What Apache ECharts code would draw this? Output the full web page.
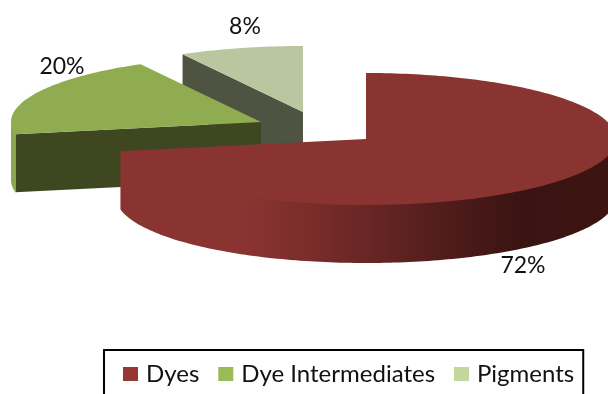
<!DOCTYPE html>
<html><head><meta charset="utf-8">
<style>html,body{margin:0;padding:0;background:#fff;overflow:hidden}#c{width:608px;height:394px}</style>
<script src="https://cdn.jsdelivr.net/npm/echarts@6/dist/echarts.min.js"></script>
</head><body><div id="c"></div>
<script>
const categories = ['Dyes', 'Dye Intermediates', 'Pigments'];
const values = [72, 20, 8];
const percentLabels = ['72%', '20%', '8%'];

// Layout of the exploded 3D pie (projection, not data)
const RX = 250, RY = 66, DEPTH = 58;
const apexes = [[366, 139], [261, 122], [303, 112]];
const labelPos = [[523, 266], [62, 67], [245, 27]];
const legendColors = ['#953735', '#9bbb59', '#c3d69b'];
const topColors = ['#8a3432', '#8fad50', '#b9c6a0'];
const wallColors = ['#5a2020', '#3f4720', '#4f5341'];

const total = values.reduce((a, b) => a + b, 0);
const angles = [];
let acc = 0;
values.forEach(v => { angles.push([acc / total * 2 * Math.PI, (acc + v) / total * 2 * Math.PI]); acc += v; });

function pt(i, a, dy) {
  return [apexes[i][0] + RX * Math.sin(a), apexes[i][1] - RY * Math.cos(a) + (dy || 0)];
}
function arc(i, a0, a1, dy) {
  const n = Math.max(2, Math.ceil((a1 - a0) / 0.02)), out = [];
  for (let k = 0; k <= n; k++) out.push(pt(i, a0 + (a1 - a0) * k / n, dy));
  return out;
}
function poly(points, fill) {
  return { type: 'polygon', shape: { points }, style: { fill }, silent: true };
}
function outerWallFill(i) {
  if (i === 0) {
    return new echarts.graphic.LinearGradient(0, 0, 1, 0, [
      { offset: 0, color: '#8a3432' },
      { offset: 0.24, color: '#8a3432' },
      { offset: 0.38, color: '#7a2d2b' },
      { offset: 0.58, color: '#5c2120' },
      { offset: 0.8, color: '#3a1412' },
      { offset: 1, color: '#3c1513' }
    ]);
  }
  return '#8aa84e';
}
function sliceRenderer(i) {
  return function () {
    const [a0, a1] = angles[i], apex = apexes[i], kids = [];
    // flat cut wall at the slice's start that faces the viewer
    if (i === 1 || i === 2) {
      const p = pt(i, a0);
      kids.push(poly([p, apex, [apex[0], apex[1] + DEPTH], [p[0], p[1] + DEPTH]], wallColors[i]));
    }
    // curved outer wall, only the front half of the rim shows; tucked 1px under the top face
    const fa0 = Math.max(a0, Math.PI / 2), fa1 = Math.min(a1, 1.5 * Math.PI);
    if (fa1 > fa0) {
      const top = arc(i, fa0, fa1, -1), bottom = arc(i, fa0, fa1, DEPTH).reverse();
      kids.push(poly(top.concat(bottom), outerWallFill(i)));
    }
    // top face
    kids.push(poly([apex].concat(arc(i, a0, a1)), topColors[i]));
    kids.push({
      type: 'text', silent: true,
      style: {
        text: percentLabels[i], x: labelPos[i][0], y: labelPos[i][1],
        align: 'center', verticalAlign: 'middle',
        font: '400 23px Lato, "Open Sans", sans-serif', fill: '#111'
      }
    });
    return { type: 'group', children: kids };
  };
}

// back-to-front painting order
const drawOrder = [2, 1, 0];
const series = drawOrder.map((i, k) => ({
  type: 'custom',
  name: categories[i],
  coordinateSystem: 'none',
  renderItem: sliceRenderer(i),
  data: [values[i]],
  itemStyle: { color: legendColors[i] },
  z: k + 1,
  animation: false
}));

const chart = echarts.init(document.getElementById('c'), null, { renderer: 'canvas' });
chart.setOption({
  animation: false,
  backgroundColor: '#fff',
  legend: {
    data: categories,
    left: 104, top: 350,
    padding: [12, 9, 21, 19],
    itemWidth: 15, itemHeight: 14, itemGap: 19,
    icon: 'rect',
    borderColor: '#000', borderWidth: 2,
    textStyle: { fontFamily: 'Lato, "Open Sans", sans-serif', fontSize: 24, color: '#111', padding: [0, 0, 0, 3] }
  },
  series
});
</script></body></html>
